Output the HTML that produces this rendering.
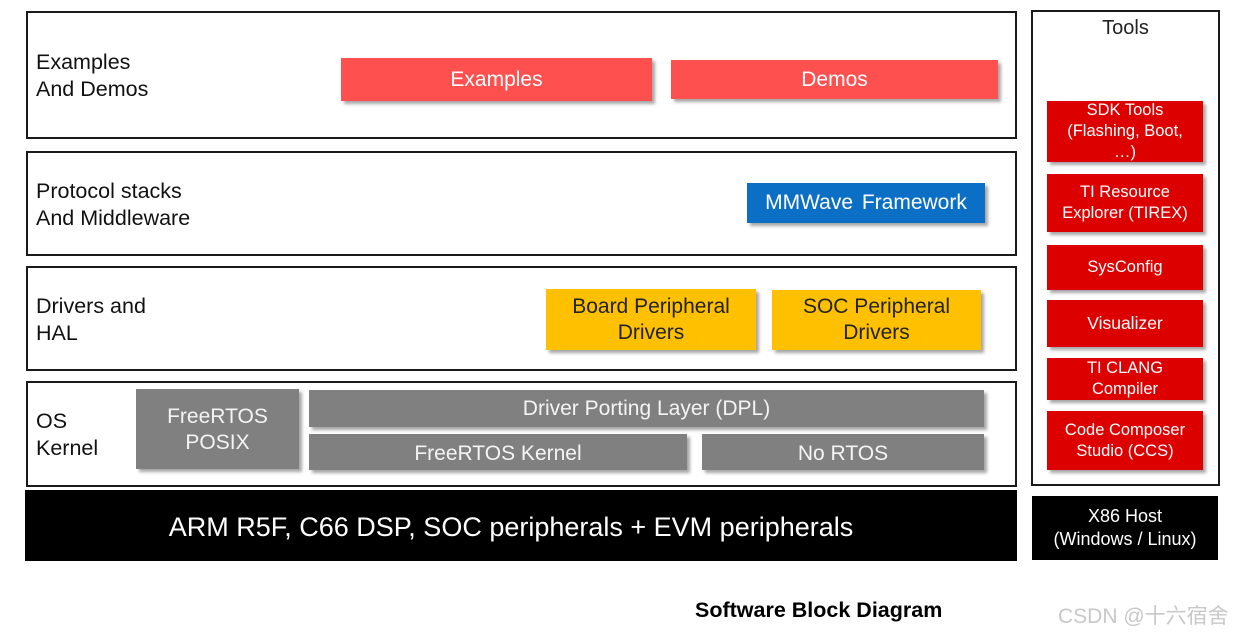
<!DOCTYPE html>
<html><head><meta charset="utf-8"><style>
body{margin:0;width:1245px;height:633px;background:#fff;position:relative;overflow:hidden;font-family:"Liberation Sans",Arial,sans-serif}
div{position:absolute;box-sizing:border-box}
.layer{border:2.5px solid #1a1a1a;left:26px;width:991px}
.lbl{font-size:21.5px;line-height:27px;color:#111}
.b{display:flex;align-items:center;justify-content:center;text-align:center;box-shadow:3px 3px 3px rgba(0,0,0,.35)}
.red{background:#ff5050;color:#fff;font-size:21px}
.yel{background:#ffc000;color:#222;font-size:21px;line-height:26px}
.gr{background:#808080;color:#f4f4f4;font-size:21px;line-height:26px}
.tr{background:#dd0000;color:#fff;font-size:16.5px;line-height:21px;left:1047px;width:156px}
</style></head><body>
<div class="layer" style="top:11px;height:128px"></div>
<div class="lbl" style="left:36px;top:49px">Examples<br>And Demos</div>
<div class="b red" style="left:341px;top:58px;width:311px;height:43px">Examples</div>
<div class="b red" style="left:671px;top:60px;width:327px;height:39px">Demos</div>

<div class="layer" style="top:151px;height:105px"></div>
<div class="lbl" style="left:36px;top:178px">Protocol stacks<br>And Middleware</div>
<div class="b" style="left:747px;top:183px;width:238px;height:40px;background:#0b6fc6;color:#fff;font-size:21px;word-spacing:3px">MMWave Framework</div>

<div class="layer" style="top:266px;height:105px"></div>
<div class="lbl" style="left:36px;top:293px">Drivers and<br>HAL</div>
<div class="b yel" style="left:546px;top:289px;width:210px;height:61px">Board Peripheral<br>Drivers</div>
<div class="b yel" style="left:772px;top:290px;width:209px;height:60px">SOC Peripheral<br>Drivers</div>

<div class="layer" style="top:381px;height:106px"></div>
<div class="lbl" style="left:36px;top:408px">OS<br>Kernel</div>
<div class="b gr" style="left:136px;top:389px;width:163px;height:80px;align-items:flex-start;padding-top:15px">FreeRTOS<br>POSIX</div>
<div class="b gr" style="left:309px;top:390px;width:675px;height:37px">Driver Porting Layer (DPL)</div>
<div class="b gr" style="left:309px;top:434px;width:378px;height:36px;padding-top:4px">FreeRTOS Kernel</div>
<div class="b gr" style="left:702px;top:434px;width:282px;height:36px;padding-top:4px">No RTOS</div>

<div style="left:25px;top:490px;width:992px;height:71px;background:#000;color:#fff;font-size:27px;display:flex;align-items:center;justify-content:center;padding-right:20px;padding-top:4px">ARM R5F, C66 DSP, SOC peripherals + EVM peripherals</div>

<div style="left:1031px;top:10px;width:189px;height:476px;border:2.5px solid #1a1a1a"></div>
<div style="left:1031px;top:17px;width:189px;text-align:center;font-size:20px;color:#222">Tools</div>
<div class="b tr" style="top:101px;height:61px">SDK Tools<br>(Flashing, Boot,<br>…)</div>
<div class="b tr" style="top:174px;height:58px">TI Resource<br>Explorer (TIREX)</div>
<div class="b tr" style="top:245px;height:45px">SysConfig</div>
<div class="b tr" style="top:300px;height:47px;font-size:17.5px">Visualizer</div>
<div class="b tr" style="top:358px;height:42px">TI CLANG<br>Compiler</div>
<div class="b tr" style="top:411px;height:59px">Code Composer<br>Studio (CCS)</div>

<div style="left:1032px;top:496px;width:186px;height:64px;background:#000;color:#fff;font-size:18px;line-height:23px;display:flex;align-items:center;justify-content:center;text-align:center">X86 Host<br>(Windows / Linux)</div>

<div style="left:695px;top:598px;font-size:21.5px;font-weight:bold;color:#000">Software Block Diagram</div>
<div style="left:1058px;top:600px;font-size:21px;color:#c8c8c8;font-family:'Liberation Sans','Noto Sans CJK SC',sans-serif">CSDN @十六宿舍</div>
</body></html>
